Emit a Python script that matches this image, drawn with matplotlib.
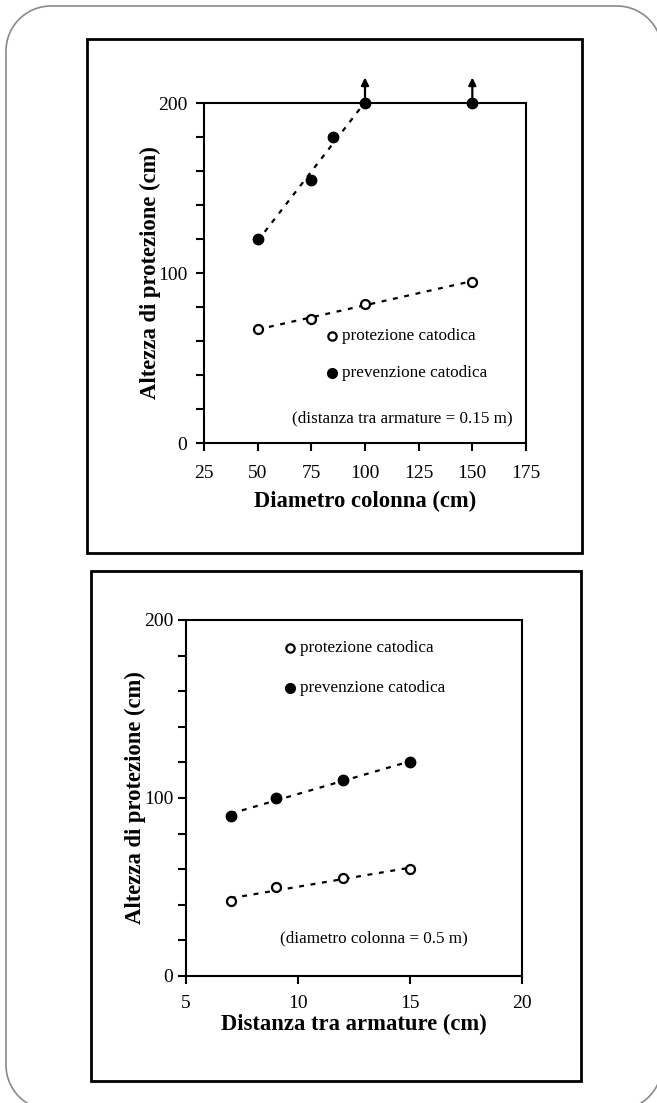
import numpy as np
import matplotlib
matplotlib.use("Agg")
import matplotlib.pyplot as plt
from matplotlib.patches import Rectangle, PathPatch
from matplotlib.path import Path
from matplotlib.ticker import MultipleLocator

plt.rcParams['font.family'] = ['Liberation Serif', 'DejaVu Serif']

# pannello 1: altezza di protezione vs diametro colonna
diam_prot = [50, 75, 100, 150]
h_prot_1 = [67, 73, 82, 95]
diam_prev = [50, 75, 85, 100, 150]
h_prev_1 = [120, 155, 180, 200, 200]
diam_freccia = [100, 150]   # valori oltre la scala (>= 200)

# pannello 2: altezza di protezione vs distanza tra armature
dist = [7, 9, 12, 15]
h_prot_2 = [42, 50, 55, 60]
h_prev_2 = [90, 100, 110, 120]

W, H = 657, 1103
fig = plt.figure(figsize=(W / 100, H / 100), dpi=100)

# cornice e riquadri (coordinate in pixel immagine, y verso il basso)
bg = fig.add_axes([0, 0, 1, 1])
bg.set_xlim(0, W)
bg.set_ylim(H, 0)
bg.axis('off')


def rettangolo_arrotondato(x0, y0, x1, y1, r):
    t = np.linspace(0, np.pi / 2, 30)
    pts = []
    # angoli: alto-sx, alto-dx, basso-dx, basso-sx
    for cx, cy, a0 in [(x0 + r, y0 + r, np.pi), (x1 - r, y0 + r, 1.5 * np.pi),
                       (x1 - r, y1 - r, 0), (x0 + r, y1 - r, 0.5 * np.pi)]:
        a = a0 + t
        pts += list(zip(cx + r * np.cos(a), cy + r * np.sin(a)))
    pts.append(pts[0])
    return Path(pts)


bg.add_patch(PathPatch(rettangolo_arrotondato(6, 6, 662, 1110, 45),
                       fc='none', ec='#8a8a8a', lw=1.2))
bg.add_patch(Rectangle((87, 39), 495, 514, fc='none', ec='black', lw=2))
bg.add_patch(Rectangle((91, 571), 490, 510, fc='none', ec='black', lw=2))

fs_tick = 14
fs_lab = 16.3
fs_leg = 12.3


def stile(ax, ypad, labpad, xpad):
    for s in ax.spines.values():
        s.set_linewidth(1.5)
    ax.tick_params(which='both', direction='out', length=6, width=1.5,
                   labelsize=fs_tick, top=False, right=False)
    ax.tick_params(axis='x', pad=xpad)
    ax.tick_params(axis='y', pad=ypad)
    ax.yaxis.set_minor_locator(MultipleLocator(20))
    ax.yaxis.set_major_locator(MultipleLocator(100))
    ax.set_ylabel('Altezza di protezione (cm)', fontsize=fs_lab, fontweight='bold', labelpad=labpad)


def tendenza(ax, x, y, x0, x1):
    p = np.polyfit(x, y, 1)
    xs = np.array([x0, x1])
    ax.plot(xs, np.polyval(p, xs), ls=(0, (2.2, 3)), color='black', lw=1.6, zorder=2)


ms = 7.5

# ---- pannello superiore
ax1 = fig.add_axes([204 / W, 1 - 443 / H, 322 / W, 340 / H])
ax1.set_xlim(25, 175)
ax1.set_ylim(0, 200)
ax1.xaxis.set_major_locator(MultipleLocator(25))
stile(ax1, 6, -2, 10)
ax1.set_xlabel('Diametro colonna (cm)', fontsize=fs_lab, fontweight='bold', labelpad=6)

tendenza(ax1, diam_prev[:4], h_prev_1[:4], 50, 100)
tendenza(ax1, diam_prot, h_prot_1, 50, 150)
ax1.plot(diam_prot, h_prot_1, 'o', mfc='white', mec='black', mew=1.6, ms=ms - 1, zorder=3)
ax1.plot(diam_prev, h_prev_1, 'o', color='black', ms=ms, zorder=4, clip_on=False)
for xf in diam_freccia:
    ax1.annotate('', xy=(xf, 215), xytext=(xf, 200), annotation_clip=False,
                 arrowprops=dict(arrowstyle='-|>', color='black', lw=1.6,
                                 mutation_scale=11, shrinkA=0, shrinkB=0))

ax1.plot([84.5], [63], 'o', mfc='white', mec='black', mew=1.6, ms=ms - 1.5)
ax1.plot([84.5], [41], 'o', color='black', ms=ms - 0.5)
ax1.text(89.3, 63, 'protezione catodica', fontsize=fs_leg, va='center')
ax1.text(89.3, 41, 'prevenzione catodica', fontsize=fs_leg, va='center')
ax1.text(117.5, 14.5, '(distanza tra armature = 0.15 m)', fontsize=fs_leg, ha='center', va='center')

# ---- pannello inferiore
ax2 = fig.add_axes([186 / W, 1 - 976 / H, 336 / W, 356 / H])
ax2.set_xlim(5, 20)
ax2.set_ylim(0, 200)
ax2.xaxis.set_major_locator(MultipleLocator(5))
stile(ax2, 3, -1, 8)
ax2.set_xlabel('Distanza tra armature (cm)', fontsize=fs_lab, fontweight='bold', labelpad=1)

tendenza(ax2, dist, h_prev_2, 7, 15)
tendenza(ax2, dist, h_prot_2, 7, 15)
ax2.plot(dist, h_prot_2, 'o', mfc='white', mec='black', mew=1.6, ms=ms - 1, zorder=3)
ax2.plot(dist, h_prev_2, 'o', color='black', ms=ms, zorder=4)

ax2.plot([9.65], [184], 'o', mfc='white', mec='black', mew=1.6, ms=ms - 1.5)
ax2.plot([9.65], [162], 'o', color='black', ms=ms - 0.5)
ax2.text(10.1, 184, 'protezione catodica', fontsize=fs_leg, va='center')
ax2.text(10.1, 162, 'prevenzione catodica', fontsize=fs_leg, va='center')
ax2.text(13.4, 21, '(diametro colonna = 0.5 m)', fontsize=fs_leg, ha='center', va='center')

fig.savefig('out.png', dpi=100)
